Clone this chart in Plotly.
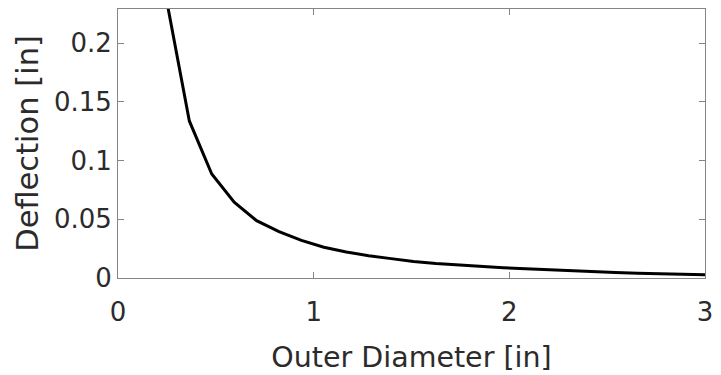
import plotly.graph_objects as go

# Outer diameter samples [in] and the resulting deflection [in]
outer_diameter = [0.25, 0.3646, 0.4792, 0.5938, 0.7083, 0.8229, 0.9375, 1.0521,
                  1.1667, 1.2813, 1.3958, 1.5104, 1.625, 1.7396, 1.8542, 1.9688,
                  2.0833, 2.1979, 2.3125, 2.4271, 2.5417, 2.6563, 2.7708, 2.8854, 3.0]
deflection = [0.235, 0.1337, 0.0885, 0.0645, 0.0488, 0.0395, 0.0320, 0.0262,
              0.0222, 0.0190, 0.0165, 0.0141, 0.0124, 0.0110, 0.0097, 0.0088,
              0.0079, 0.0070, 0.0061, 0.0054, 0.0047, 0.0041, 0.0036, 0.0031, 0.0027]

x_ticks = [0, 1, 2, 3]
y_ticks = [0, 0.05, 0.1, 0.15, 0.2]
y_tick_text = ["0", "0.05", "0.1", "0.15", "0.2"]

font_family = "DejaVu Sans, Arial, sans-serif"
text_color = "#2b2b2b"
axis_color = "#858585"

fig = go.Figure(
    go.Scatter(
        x=outer_diameter,
        y=deflection,
        mode="lines",
        line=dict(color="black", width=3),
        showlegend=False,
    )
)

axis_common = dict(
    showline=True,
    linecolor=axis_color,
    linewidth=1,
    mirror="ticks",
    ticks="inside",
    ticklen=6,
    tickwidth=1,
    tickcolor=axis_color,
    showgrid=False,
    zeroline=False,
    tickfont=dict(family=font_family, size=26, color=text_color),
)

fig.update_xaxes(
    range=[0, 3],
    tickvals=x_ticks,
    ticklabelstandoff=11,
    title=dict(text="Outer Diameter [in]", font=dict(family=font_family, size=28.5, color=text_color), standoff=20),
    **axis_common,
)
fig.update_yaxes(
    range=[0, 0.229],
    tickvals=y_ticks,
    ticktext=y_tick_text,
    title=dict(text="Deflection [in]", font=dict(family=font_family, size=30.5, color=text_color), standoff=6),
    **axis_common,
)

fig.update_layout(
    width=721,
    height=375,
    margin=dict(l=118, r=12, t=8, b=91),
    paper_bgcolor="white",
    plot_bgcolor="white",
)

fig.write_html("out.html")
